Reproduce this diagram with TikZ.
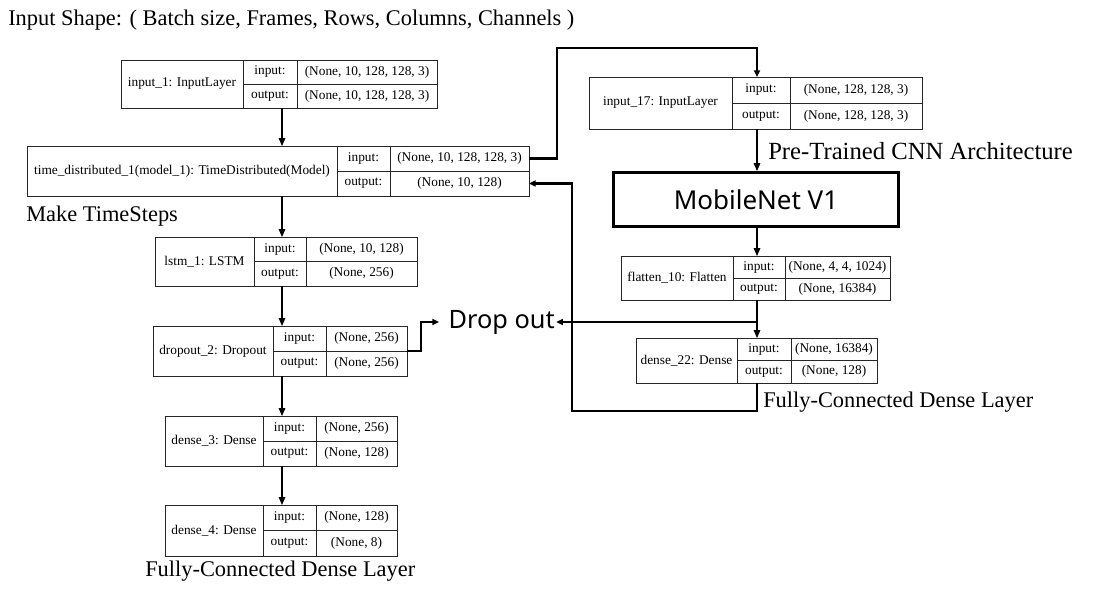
\documentclass[tikz,border=0pt]{standalone}
\usepackage{fontspec}
\setmainfont{Liberation Serif}
\newfontfamily\gothicfont{Noto Sans}
\usetikzlibrary{arrows.meta,positioning}

% one layer table: id, top-left corner, widths (name, label, value), row height, texts
\newcommand{\layerbox}[9]{%
  \node[cell, anchor=north west, minimum width=#3*0.75pt, minimum height=2*#6*0.75pt] (#1n) at (#2) {#7};
  \node[cell, anchor=north west, minimum width=#4*0.75pt, minimum height=#6*0.75pt] (#1li) at (#1n.north east) {input:};
  \node[cell, anchor=north west, minimum width=#4*0.75pt, minimum height=#6*0.75pt] (#1lo) at (#1li.south west) {output:};
  \node[cell, anchor=north west, minimum width=#5*0.75pt, minimum height=#6*0.75pt] (#1vi) at (#1li.north east) {#8};
  \node[cell, anchor=north west, minimum width=#5*0.75pt, minimum height=#6*0.75pt] (#1vo) at (#1vi.south west) {#9};
}

\begin{document}
\begin{tikzpicture}[
    x=0.75pt, y=-0.75pt,
    cell/.style={draw=black!85, line width=0.6pt, inner sep=0pt, outer sep=0pt, align=center, font=\fontsize{10}{12}\selectfont},
    caption/.style={anchor=west, inner sep=0pt, font=\fontsize{16.8}{20}\selectfont},
    gothic/.style={inner sep=1pt, font=\gothicfont\fontsize{19}{22}\selectfont},
    flow/.style={-{Triangle[length=6pt, width=5pt]}, line width=0.8pt},
    route/.style={-{Triangle[length=5pt, width=4.5pt]}, line width=1.6pt},
  ]
  \useasboundingbox (0,0) rectangle (1097,590);

  % sequence branch
  \layerbox{in1}{121,60}{122}{54}{140}{24}{input\_1: InputLayer}{(None, 10, 128, 128, 3)}{(None, 10, 128, 128, 3)}
  \layerbox{td}{27,146}{310}{53}{139}{25}{time\_distributed\_1(model\_1): TimeDistributed(Model)}{(None, 10, 128, 128, 3)}{(None, 10, 128)}
  \layerbox{lstm}{155,237}{99}{52}{111}{24.5}{lstm\_1: LSTM}{(None, 10, 128)}{(None, 256)}
  \layerbox{drop}{153,326}{120}{53}{81}{25}{dropout\_2: Dropout}{(None, 256)}{(None, 256)}
  \layerbox{dnsA}{165,416}{98}{53}{81}{25}{dense\_3: Dense}{(None, 256)}{(None, 128)}
  \layerbox{dnsB}{165,505}{98}{53}{81}{25.5}{dense\_4: Dense}{(None, 128)}{(None, 8)}

  % cnn branch
  \layerbox{in17}{589,77}{143}{58}{132}{26}{input\_17: InputLayer}{(None, 128, 128, 3)}{(None, 128, 128, 3)}
  \node[draw, line width=2.2pt, minimum width=285*0.75pt, minimum height=54*0.75pt, gothic, font=\gothicfont\fontsize{19.5}{22}\selectfont] (mobnet) at (756,199.5) {MobileNet V1};
  \layerbox{flat}{621,256}{112}{52}{105}{22}{flatten\_10: Flatten}{(None, 4, 4, 1024)}{(None, 16384)}
  \layerbox{dtt}{636,338}{101}{54}{86}{22.5}{dense\_22: Dense}{(None, 16384)}{(None, 128)}

  % captions
  \node[caption] (shape) at (8,20) {Input Shape: ( Batch size, Frames, Rows, Columns, Channels )};
  \node[caption] (steps) at (26,216) {Make TimeSteps};
  \node[caption] (fcleft) at (145,571) {Fully-Connected Dense Layer};
  \node[caption, font=\fontsize{18.5}{22}\selectfont] (pretrained) at (768,151) {Pre-Trained CNN Architecture};
  \node[caption] (fcright) at (763,402) {Fully-Connected Dense Layer};
  \node[gothic, anchor=west] (dropout) at (447,322) {Drop out};

  \coordinate (colL) at (282,0);
  \coordinate (colR) at (757,0);
  \coordinate (upbend) at (557,48);
  \coordinate (dropbend) at (421,0);
  \coordinate (retbend) at (572,411);

  \foreach \up/\dn in {in1/td, td/lstm, lstm/drop, drop/dnsA, dnsA/dnsB}
    \draw[flow] (colL |- \up n.south) -- (colL |- \dn n.north);

  \draw[flow] (in17n.south -| colR) -- (mobnet.north -| colR);
  \draw[flow] (mobnet.south -| colR) -- (flatn.north -| colR);
  \draw[flow] (flatn.south -| colR) -- (dttn.north -| colR);

  \draw[route] (tdvi.east) -| (upbend) -| (in17n.north -| colR);
  \draw[route] (dttn.south -| colR) |- (retbend) |- (tdvo.east);
  \draw[route, shorten >=6pt] (dropvi.south east) -| (dropbend |- dropout.west) -- (dropout.west);
  \draw[route] (colR |- dropout.east) -- (dropout.east);
\end{tikzpicture}
\end{document}
